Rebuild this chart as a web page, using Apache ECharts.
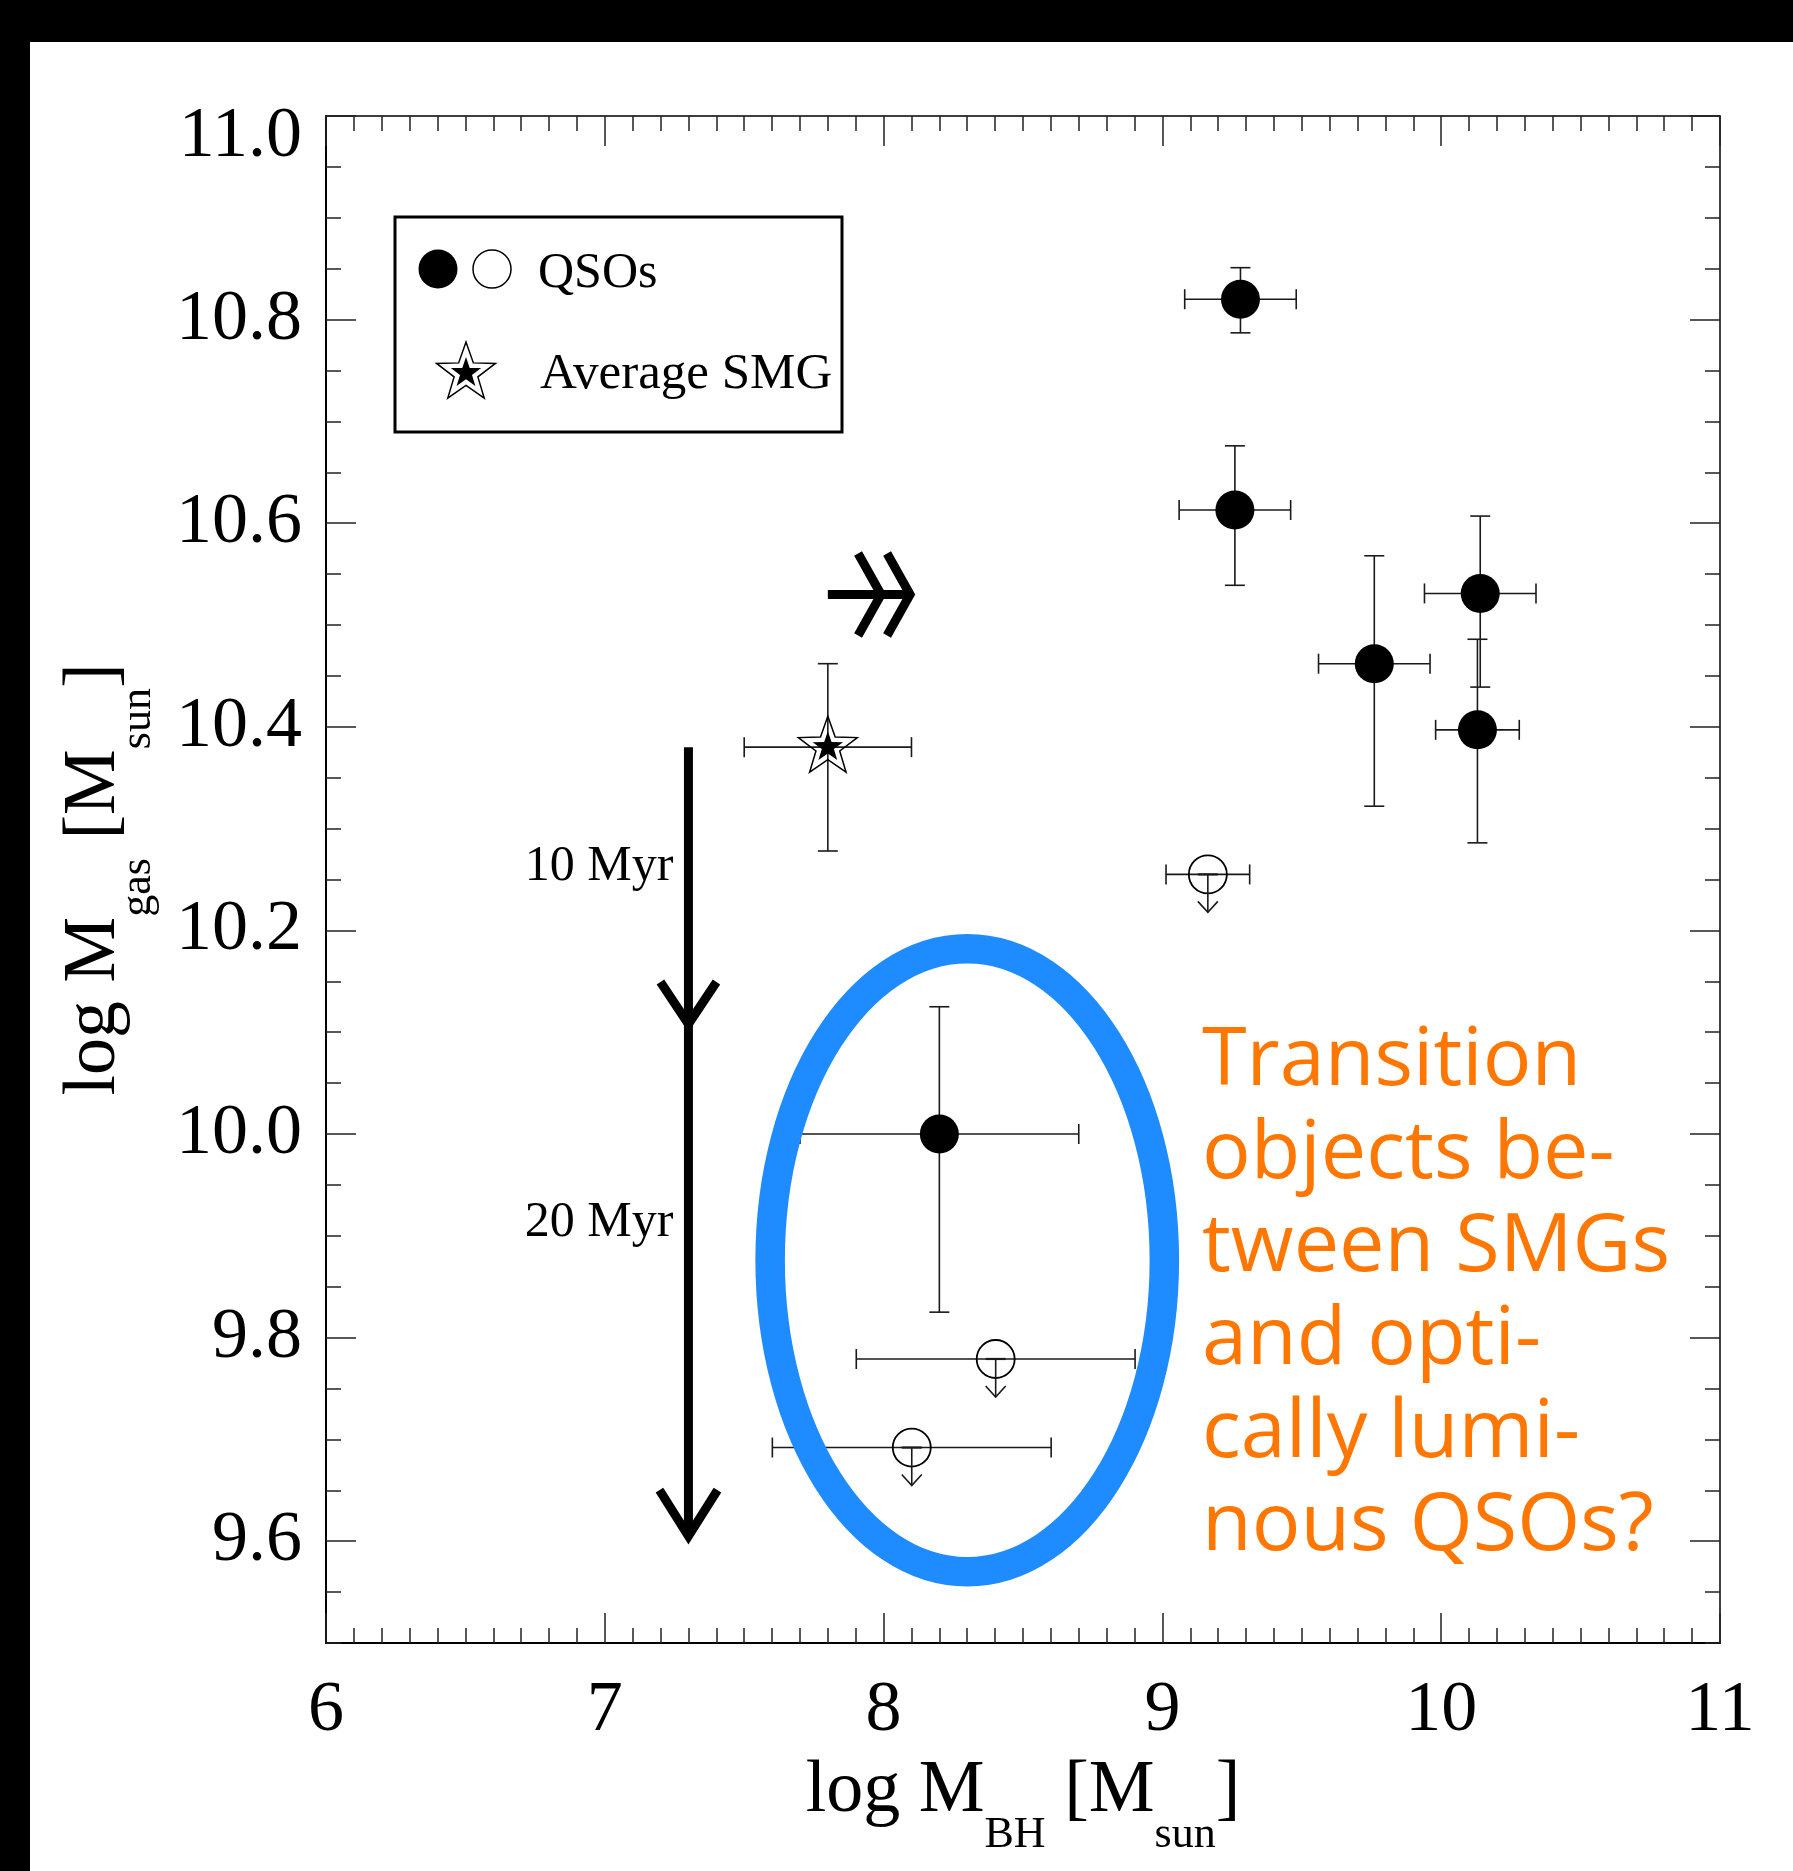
<!DOCTYPE html>
<html><head><meta charset="utf-8">
<script src="https://cdn.jsdelivr.net/npm/echarts@6/dist/echarts.min.js"></script>
<style>html,body{margin:0;padding:0;background:#fff}#c{width:1793px;height:1871px}</style>
</head><body><div id="c"></div>
<script>
// ---- data ----
const xTickValues = [6, 7, 8, 9, 10, 11];
const yTickLabels = [9.6, 9.8, 10.0, 10.2, 10.4, 10.6, 10.8, 11.0];

// detected QSOs (filled circles)
const qsoX        = [9.28, 9.26, 10.14, 9.76, 10.13, 8.20];
const qsoY        = [10.82, 10.613, 10.531, 10.462, 10.397, 10.00];
const qsoXErr     = [0.20, 0.20, 0.20, 0.20, 0.15, 0.50];
const qsoYErrUp   = [0.031, 0.063, 0.076, 0.106, 0.089, 0.125];
const qsoYErrDown = [0.033, 0.074, 0.092, 0.140, 0.111, 0.175];

// upper limits (open circles)
const limX    = [9.163, 8.402, 8.101];
const limY    = [10.255, 9.779, 9.692];
const limXErr = [0.15, 0.50, 0.50];

// average SMG (star)
const smgX = [7.80];
const smgY = [10.38];
const smgXErr = [0.30];
const smgYErrUp = [0.082];
const smgYErrDown = [0.102];

// growth track (vertical arrow) and time labels
const growthX = [7.30];
const growthTop = [10.38];
const growthHeads = [10.108, 9.605];
const timeLabels = ['10 Myr', '20 Myr'];
const timeLabelY = [10.262, 9.913];

// double chevron arrow
const chevronStart = [7.80, 10.53];
const chevronTips = [7.991, 8.095];

// highlighted region (ellipse): centre x, centre y, half-width, half-height
const regionEllipse = [8.30, 9.876, 0.707, 0.306];

const noteLines = ['Transition', 'objects be-', 'tween SMGs', 'and opti-', 'cally lumi-', 'nous QSOs?'];

// ---- chart ----
const SERIF = 'Liberation Serif, Times New Roman, serif';
const INK = '#1a1a1a';

function starPts(cx, cy, R, r) {
  const pts = [];
  for (let k = 0; k < 10; k++) {
    const a = -Math.PI / 2 + k * Math.PI / 5;
    const rad = k % 2 === 0 ? R : r;
    pts.push([cx + rad * Math.cos(a), cy + rad * Math.sin(a)]);
  }
  return pts;
}

const errData = [];
qsoX.forEach((x, i) => errData.push([x, qsoY[i], qsoXErr[i], qsoXErr[i], qsoYErrDown[i], qsoYErrUp[i]]));
limX.forEach((x, i) => errData.push([x, limY[i], limXErr[i], limXErr[i], 0, 0]));
smgX.forEach((x, i) => errData.push([x, smgY[i], smgXErr[i], smgXErr[i], smgYErrDown[i], smgYErrUp[i]]));

function renderErr(params, api) {
  const x = api.value(0), y = api.value(1);
  const xl = api.value(2), xh = api.value(3), yl = api.value(4), yh = api.value(5);
  const c = api.coord([x, y]);
  const st = { stroke: INK, lineWidth: 1.6, fill: null };
  const cap = 10;
  const ch = [];
  const pL = api.coord([x - xl, y]), pR = api.coord([x + xh, y]);
  ch.push({ type: 'line', shape: { x1: pL[0], y1: c[1], x2: pR[0], y2: c[1] }, style: st });
  ch.push({ type: 'line', shape: { x1: pL[0], y1: c[1] - cap, x2: pL[0], y2: c[1] + cap }, style: st });
  ch.push({ type: 'line', shape: { x1: pR[0], y1: c[1] - cap, x2: pR[0], y2: c[1] + cap }, style: st });
  if (yl > 0 || yh > 0) {
    const pB = api.coord([x, y - yl]), pT = api.coord([x, y + yh]);
    ch.push({ type: 'line', shape: { x1: c[0], y1: pB[1], x2: c[0], y2: pT[1] }, style: st });
    ch.push({ type: 'line', shape: { x1: c[0] - cap, y1: pB[1], x2: c[0] + cap, y2: pB[1] }, style: st });
    ch.push({ type: 'line', shape: { x1: c[0] - cap, y1: pT[1], x2: c[0] + cap, y2: pT[1] }, style: st });
  }
  return { type: 'group', children: ch };
}

function renderLimit(params, api) {
  const c = api.coord([api.value(0), api.value(1)]);
  const st = { stroke: INK, lineWidth: 1.6, fill: null };
  return {
    type: 'group', children: [
      { type: 'circle', shape: { cx: c[0], cy: c[1], r: 19 }, style: { stroke: '#000', lineWidth: 1.8, fill: null } },
      { type: 'line', shape: { x1: c[0] - 10, y1: c[1], x2: c[0] + 10, y2: c[1] }, style: { stroke: INK, lineWidth: 2.2 } },
      { type: 'line', shape: { x1: c[0], y1: c[1], x2: c[0], y2: c[1] + 38 }, style: st },
      { type: 'polyline', shape: { points: [[c[0] - 10, c[1] + 27], [c[0], c[1] + 38], [c[0] + 10, c[1] + 27]] }, style: st }
    ]
  };
}

function renderStar(params, api) {
  const c = api.coord([api.value(0), api.value(1)]);
  return {
    type: 'group', children: [
      { type: 'polygon', shape: { points: starPts(c[0], c[1], 31, 12.5) }, style: { stroke: '#000', lineWidth: 1.5, fill: null } },
      { type: 'polygon', shape: { points: starPts(c[0], c[1], 16, 6.3) }, style: { fill: '#000' } }
    ]
  };
}

function renderEllipse(params, api) {
  const c = api.coord([api.value(0), api.value(1)]);
  const sz = api.size([api.value(2), api.value(3)]);
  return { type: 'ellipse', shape: { cx: c[0], cy: c[1], rx: sz[0], ry: sz[1] }, style: { stroke: '#1e8bff', lineWidth: 29.5, fill: null } };
}

function renderGrowth(params, api) {
  const x = api.value(0);
  const top = api.coord([x, api.value(1)]);
  const h1 = api.coord([x, api.value(2)]);
  const h2 = api.coord([x, api.value(3)]);
  const st = { stroke: '#000', lineWidth: 9, fill: null, lineJoin: 'miter', lineCap: 'butt' };
  const ch = [
    { type: 'line', shape: { x1: top[0], y1: top[1], x2: h2[0], y2: h2[1] }, style: st },
    { type: 'polyline', shape: { points: [[h1[0] - 28, h1[1] - 42], [h1[0], h1[1]], [h1[0] + 28, h1[1] - 42]] }, style: st },
    { type: 'polyline', shape: { points: [[h2[0] - 29, h2[1] - 46], [h2[0], h2[1]], [h2[0] + 29, h2[1] - 46]] }, style: st }
  ];
  timeLabels.forEach((t, i) => {
    const p = api.coord([x, timeLabelY[i]]);
    ch.push({ type: 'text', x: p[0] - 15, y: p[1], style: { text: t, fontFamily: SERIF, fontSize: 50, fill: '#000', align: 'right', verticalAlign: 'middle' } });
  });
  return { type: 'group', children: ch };
}

function renderChevron(params, api) {
  const y = api.value(1);
  const s = api.coord([api.value(0), y]);
  const t1 = api.coord([api.value(2), y]);
  const t2 = api.coord([api.value(3), y]);
  const st = { stroke: '#000', lineWidth: 9, fill: null, lineJoin: 'miter', lineCap: 'butt' };
  return {
    type: 'group', children: [
      { type: 'line', shape: { x1: s[0], y1: s[1], x2: t2[0], y2: t2[1] }, style: st },
      { type: 'polyline', shape: { points: [[t1[0] - 23, t1[1] - 41], [t1[0], t1[1]], [t1[0] - 23, t1[1] + 41]] }, style: st },
      { type: 'polyline', shape: { points: [[t2[0] - 23, t2[1] - 41], [t2[0], t2[1]], [t2[0] - 23, t2[1] + 41]] }, style: st }
    ]
  };
}

const nameRich = {
  m: { fontFamily: SERIF, fontSize: 74, color: '#000', lineHeight: 80, verticalAlign: 'top' },
  s: { fontFamily: SERIF, fontSize: 44, color: '#000', lineHeight: 102, verticalAlign: 'bottom' }
};

const tickStyle = { color: '#222', width: 1.5 };
function xAxisCfg(pos, main) {
  return {
    type: 'value', min: xTickValues[0], max: xTickValues[xTickValues.length - 1], interval: 1, position: pos,
    axisLine: { show: true, onZero: false, lineStyle: { color: '#000', width: main ? 2 : 1.5 } },
    axisTick: { show: true, inside: true, length: 30, lineStyle: tickStyle },
    minorTick: { show: true, splitNumber: 10, length: 15, lineStyle: tickStyle },
    splitLine: { show: false }, minorSplitLine: { show: false },
    axisLabel: main ? { show: true, margin: 32, fontSize: 72, lineHeight: 72, fontFamily: SERIF, color: '#000', formatter: v => String(v) } : { show: false },
    name: main ? '{m|log M}{s|BH}{m| [M}{s|sun}{m|]}' : '',
    nameLocation: 'middle', nameGap: 112,
    nameTextStyle: { rich: nameRich }
  };
}
function yMajorCfg(pos, main) {
  return {
    type: 'value', min: 9.5, max: 11, position: pos,
    axisLine: { show: true, onZero: false, lineStyle: { color: '#000', width: main ? 2 : 1.5 } },
    axisTick: { show: true, inside: true, length: 30, customValues: yTickLabels, lineStyle: tickStyle },
    splitLine: { show: false },
    axisLabel: main ? {
      show: true, customValues: yTickLabels, margin: 24, fontSize: 72, fontFamily: SERIF, color: '#000',
      formatter: v => (Math.abs(v - 11) < 1e-9 ? '{t|11.0}' : v.toFixed(1)),
      rich: { t: { fontSize: 72, fontFamily: SERIF, color: '#000', padding: [42, 0, 0, 0] } }
    } : { show: false },
    name: main ? '{m|log M}{s|gas}{m| [M}{s|sun}{m|]}' : '',
    nameLocation: 'middle', nameGap: 166, nameRotate: 90,
    nameTextStyle: { rich: nameRich }
  };
}
function yMinorCfg(pos) {
  return {
    type: 'value', min: 9.5, max: 11, interval: 0.05, position: pos,
    axisLine: { show: false }, axisLabel: { show: false }, splitLine: { show: false },
    axisTick: { show: true, inside: true, length: 15, lineStyle: tickStyle }
  };
}

const chart = echarts.init(document.getElementById('c'), null, { renderer: 'canvas' });
chart.setOption({
  animation: false,
  backgroundColor: '#ffffff',
  grid: { left: 326, top: 116, right: 73, bottom: 228 },
  xAxis: [xAxisCfg('bottom', true), xAxisCfg('top', false)],
  yAxis: [yMajorCfg('left', true), yMajorCfg('right', false), yMinorCfg('left'), yMinorCfg('right')],
  series: [
    { type: 'custom', name: 'errors', renderItem: renderErr, data: errData, encode: { x: 0, y: 1 }, z: 2, silent: true },
    { type: 'scatter', name: 'QSOs', data: qsoX.map((x, i) => [x, qsoY[i]]), symbol: 'circle', symbolSize: 39,
      itemStyle: { color: '#000', opacity: 1 }, z: 3, silent: true },
    { type: 'custom', name: 'QSO limits', renderItem: renderLimit, data: limX.map((x, i) => [x, limY[i]]), encode: { x: 0, y: 1 }, z: 3, silent: true },
    { type: 'custom', name: 'Average SMG', renderItem: renderStar, data: smgX.map((x, i) => [x, smgY[i]]), encode: { x: 0, y: 1 }, z: 3, silent: true },
    { type: 'custom', name: 'growth', renderItem: renderGrowth, data: [[growthX[0], growthTop[0], growthHeads[0], growthHeads[1]]], encode: { x: 0, y: 1 }, z: 4, silent: true },
    { type: 'custom', name: 'chevron', renderItem: renderChevron, data: [[chevronStart[0], chevronStart[1], chevronTips[0], chevronTips[1]]], encode: { x: 0, y: 1 }, z: 4, silent: true },
    { type: 'custom', name: 'region', renderItem: renderEllipse, data: [regionEllipse], encode: { x: 0, y: 1 }, z: 5, silent: true }
  ],
  graphic: [
    { type: 'rect', shape: { x: 0, y: 0, width: 1793, height: 42 }, style: { fill: '#000' }, z: 100 },
    { type: 'rect', shape: { x: 0, y: 0, width: 30, height: 1871 }, style: { fill: '#000' }, z: 100 },
    { type: 'rect', shape: { x: 395, y: 217, width: 447, height: 215 }, style: { stroke: '#000', lineWidth: 3, fill: null }, z: 50 },
    { type: 'circle', shape: { cx: 438, cy: 269, r: 19.5 }, style: { fill: '#000' }, z: 50 },
    { type: 'circle', shape: { cx: 492, cy: 269, r: 19 }, style: { stroke: '#000', lineWidth: 1.5, fill: null }, z: 50 },
    { type: 'text', x: 538, y: 274, style: { text: 'QSOs', fontFamily: SERIF, fontSize: 50, fill: '#000', verticalAlign: 'middle' }, z: 50 },
    { type: 'polygon', shape: { points: starPts(466, 373, 31, 12.5) }, style: { stroke: '#000', lineWidth: 1.5, fill: null }, z: 50 },
    { type: 'polygon', shape: { points: starPts(466, 373, 16, 6.3) }, style: { fill: '#000' }, z: 50 },
    { type: 'text', x: 540, y: 375, style: { text: 'Average SMG', fontFamily: SERIF, fontSize: 51, fill: '#000', verticalAlign: 'middle' }, z: 50 },
    { type: 'text', x: 1202, y: 1015, style: { text: noteLines.join('\n'), fontFamily: 'Open Sans', fontSize: 81, lineHeight: 93, fill: '#ff7600', verticalAlign: 'top' }, z: 50 }
  ]
});
</script></body></html>
